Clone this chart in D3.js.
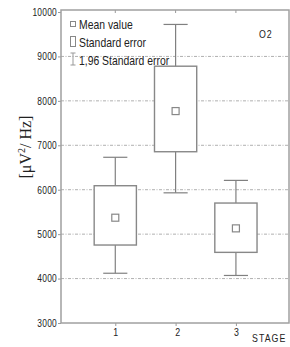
<!DOCTYPE html>
<html>
<head>
<meta charset="utf-8">
<script src="https://cdn.jsdelivr.net/npm/d3@7"></script>
<style>
  body { margin: 0; background: #fff; }
  svg { display: block; }
  text { font-family: "Liberation Sans", Arial, sans-serif; fill: #222; }
</style>
</head>
<body>
<svg id="main" width="290" height="347"></svg>
<script>
    // data
    const stages = [1, 2, 3]
    const meanVal = [5370, 7770, 5130]
    const seLow = [4755, 6855, 4590]
    const seHigh = [6090, 8780, 5700]
    const ciLow = [4120, 5930, 4070]
    const ciHigh = [6730, 9720, 6210]
    const yTicks = [3000, 4000, 5000, 6000, 7000, 8000, 9000, 10000]
    const gridTicks = [4000, 5000, 6000, 7000, 8000, 9000]

    const svg = d3.select('svg#main')
    const pLeft = 61, pRight = 289, pTop = 10, pBottom = 323
    const narrow = 0.8 // condensed look of the original font

    const xAx = d3.scaleLinear().domain([0.1, 3.88]).range([pLeft, pRight])
    const yAx = d3.scaleLinear().domain([3000, 10000]).range([pBottom, pTop + 2])

    // text helper, squeezed horizontally
    function label(x, y, txt, size, anchor = "start", spacing = 0) {
        return svg.append("text")
            .attr("transform", `translate(${x},${y}) scale(${narrow},1)`)
            .attr("text-anchor", anchor)
            .style("font-size", size + "px")
            .style("letter-spacing", spacing + "px")
            .text(txt)
    }

    // grid lines
    svg.append("g").selectAll("line")
        .data(gridTicks)
        .enter().append("line")
        .attr("x1", pLeft).attr("x2", pRight)
        .attr("y1", d => yAx(d)).attr("y2", d => yAx(d))
        .style("stroke", "#b0b0b0")
        .style("stroke-width", "1px")
        .style("stroke-dasharray", "3,1.5,1,1.5")

    // y axis
    const yAxis = svg.append("g")
        .attr("transform", `translate(${pLeft},0)`)
        .call(d3.axisLeft(yAx).tickValues(yTicks).tickSize(3).tickFormat(d3.format("d")))
    yAxis.select(".domain").remove()
    yAxis.selectAll("line").style("stroke", "#999")
    yAxis.selectAll("text")
        .attr("x", -4 / narrow)
        .attr("transform", `scale(${narrow},1)`)
        .style("font-family", '"Liberation Sans", Arial, sans-serif')
        .style("font-size", "10.5px")
        .style("letter-spacing", "0.3px")
        .style("fill", "#222")

    // x axis
    const xAxis = svg.append("g")
        .attr("transform", `translate(0,${pBottom})`)
        .call(d3.axisBottom(xAx).tickValues(stages).tickSize(3).tickFormat(d3.format("d")))
    xAxis.select(".domain").remove()
    xAxis.selectAll("line").style("stroke", "#999")
    xAxis.selectAll("text")
        .attr("y", 5)
        .attr("dx", (d, i) => i == 1 ? 2 : 0)
        .attr("transform", `scale(${narrow},1)`)
        .style("font-family", '"Liberation Sans", Arial, sans-serif')
        .style("font-size", "11px")
        .style("fill", "#222")

    // top ticks
    svg.append("g").selectAll("line")
        .data(stages)
        .enter().append("line")
        .attr("x1", d => xAx(d)).attr("x2", d => xAx(d))
        .attr("y1", pTop).attr("y2", pTop + 3)
        .style("stroke", "#999")

    // frame
    svg.append("rect")
        .attr("x", pLeft).attr("y", pTop)
        .attr("width", pRight - pLeft).attr("height", pBottom - pTop)
        .attr("fill", "none")
        .style("stroke", "#a0a0a0")
        .style("stroke-width", "1.5px")

    const boxW = xAx(1.35) - xAx(1)
    const capW = xAx(1.2) - xAx(1)

    const grp = svg.append("g").selectAll("g")
        .data(stages)
        .enter().append("g")

    // whiskers
    grp.append("line")
        .attr("x1", (d, i) => xAx(d)).attr("x2", (d, i) => xAx(d))
        .attr("y1", (d, i) => yAx(ciLow[i])).attr("y2", (d, i) => yAx(ciHigh[i]))
        .style("stroke", "#808080").style("stroke-width", "1.2px")
    grp.append("line")
        .attr("x1", d => xAx(d) - capW).attr("x2", d => xAx(d) + capW)
        .attr("y1", (d, i) => yAx(ciHigh[i])).attr("y2", (d, i) => yAx(ciHigh[i]))
        .style("stroke", "#808080").style("stroke-width", "1.2px")
    grp.append("line")
        .attr("x1", d => xAx(d) - capW).attr("x2", d => xAx(d) + capW)
        .attr("y1", (d, i) => yAx(ciLow[i])).attr("y2", (d, i) => yAx(ciLow[i]))
        .style("stroke", "#808080").style("stroke-width", "1.2px")

    // standard error box
    grp.append("rect")
        .attr("x", d => xAx(d) - boxW)
        .attr("y", (d, i) => yAx(seHigh[i]))
        .attr("width", boxW * 2)
        .attr("height", (d, i) => yAx(seLow[i]) - yAx(seHigh[i]))
        .attr("fill", "#fff")
        .style("stroke", "#888")
        .style("stroke-width", "1.4px")

    // mean square
    grp.append("rect")
        .attr("x", d => xAx(d) - 3.5)
        .attr("y", (d, i) => yAx(meanVal[i]) - 3.5)
        .attr("width", 7).attr("height", 7)
        .attr("fill", "#fff")
        .style("stroke", "#888")
        .style("stroke-width", "1.2px")

    // legend
    const legend = svg.append("g")
    legend.append("rect")
        .attr("x", 70.5).attr("y", 21.5).attr("width", 5).attr("height", 5)
        .attr("fill", "#fff").style("stroke", "#888")
    legend.append("rect")
        .attr("x", 70.5).attr("y", 36.5).attr("width", 5).attr("height", 10)
        .attr("fill", "#fff").style("stroke", "#888")
    legend.append("line")
        .attr("x1", 73).attr("x2", 73).attr("y1", 53).attr("y2", 65)
        .style("stroke", "#999")
    legend.append("line")
        .attr("x1", 70.5).attr("x2", 75.5).attr("y1", 53).attr("y2", 53)
        .style("stroke", "#999")
    legend.append("line")
        .attr("x1", 70.5).attr("x2", 75.5).attr("y1", 65).attr("y2", 65)
        .style("stroke", "#999")
    const legendNames = ["Mean value", "Standard error", "1,96 Standard error"]
    legendNames.forEach((d, i) => label(79, 28.5 + i * 18, d, 13))

    label(259, 38, "O2", 11, "start", 1)
    label(252, 342, "STAGE", 11, "start", 1.3)

    // Y axis label
    const yl = svg.append("text")
        .attr("text-anchor", "middle")
        .attr("transform", "translate(31,147) rotate(-90)")
        .style("font-family", '"Liberation Serif", "Times New Roman", serif')
        .style("font-size", "16px")
    yl.append("tspan").text("[μV")
    yl.append("tspan").attr("dy", -6).style("font-size", "10px").text("2")
    yl.append("tspan").attr("dy", 6).text("/ Hz]")
</script>
</body>
</html>
